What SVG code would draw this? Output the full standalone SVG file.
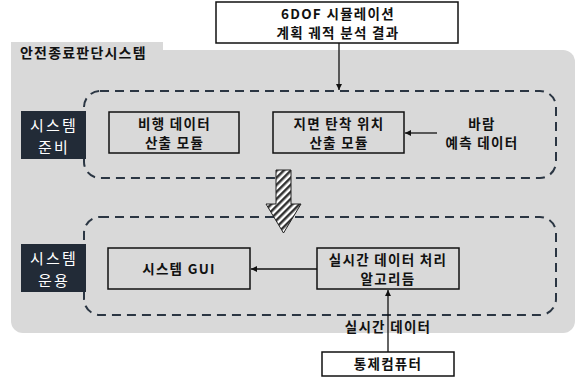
<svg xmlns="http://www.w3.org/2000/svg" width="581" height="378" viewBox="0 0 581 378">
<style>
.t{font-family:"Noto Sans CJK KR","Malgun Gothic",sans-serif;font-weight:bold;font-size:13.5px;letter-spacing:1.3px;fill:#111;text-anchor:middle}
.lbl{font-family:"Noto Sans CJK KR",sans-serif;font-size:15px;letter-spacing:2.2px;fill:#fff;text-anchor:middle}
.box{fill:none;stroke:#111;stroke-width:1.5}
.wbox{fill:#fff;stroke:#111;stroke-width:1.5}
.dash{fill:none;stroke:#2b3643;stroke-width:2;stroke-dasharray:9,6}
.lab{fill:#222b37}
.conn{stroke:#111;stroke-width:1.3;fill:none;marker-end:url(#ah)}
</style>
<defs>
<marker id="ah" markerWidth="8" markerHeight="8" refX="6" refY="3" orient="auto" markerUnits="userSpaceOnUse">
<path d="M0,0 L6,3 L0,6 Z" fill="#111"/>
</marker>
<pattern id="hatch" width="5" height="5" patternUnits="userSpaceOnUse" patternTransform="rotate(45)">
<rect width="5" height="5" fill="#fff"/>
<rect width="2.5" height="5" fill="#333"/>
</pattern>
</defs>
<rect width="581" height="378" fill="#fff"/>
<g id="system">
<rect x="11" y="50" width="564" height="283" rx="12" fill="#d9d9d9"/>
<rect x="11" y="42" width="152" height="20" fill="#d9d9d9"/>
<text x="20" y="57.5" font-family="Noto Sans CJK KR, sans-serif" font-weight="bold" font-size="14px" letter-spacing="1.2px" fill="#111">안전종료판단시스템</text>
</g>
<g id="prep-group">
<rect class="dash" x="84" y="91" width="472" height="87" rx="16"/>
</g>
<g id="ops-group">
<rect class="dash" x="84" y="217" width="472" height="98" rx="16"/>
</g>
<g id="sim-result">
<rect class="wbox" x="216" y="2" width="242" height="41"/>
<text class="t" x="338" y="18.5">6DOF 시뮬레이션</text>
<text class="t" x="338" y="37.5">계획 궤적 분석 결과</text>
</g>
<g id="label-prep">
<rect class="lab" x="21" y="111" width="65" height="48"/>
<text class="lbl" x="54" y="131">시스템</text>
<text class="lbl" x="54" y="153">준비</text>
</g>
<g id="flight-data">
<rect class="box" x="109" y="112" width="130" height="41"/>
<text class="t" x="174.5" y="128.5">비행 데이터</text>
<text class="t" x="174.5" y="148">산출 모듈</text>
</g>
<g id="impact">
<rect class="box" x="273" y="112" width="131" height="41"/>
<text class="t" x="339" y="128.5">지면 탄착 위치</text>
<text class="t" x="339" y="148">산출 모듈</text>
</g>
<g id="wind">
<text class="t" x="482" y="128.5">바람</text>
<text class="t" x="482" y="148">예측 데이터</text>
</g>
<g id="big-arrow">
<path d="M276,170 H291 V204 H301 L283.5,233 L266,204 H276 Z" fill="url(#hatch)" stroke="#222" stroke-width="1"/>
</g>
<g id="label-ops">
<rect class="lab" x="21" y="244" width="65" height="48"/>
<text class="lbl" x="54" y="264">시스템</text>
<text class="lbl" x="54" y="286">운용</text>
</g>
<g id="gui">
<rect class="box" x="108" y="248" width="142" height="41"/>
<text class="t" x="179" y="273.5">시스템 GUI</text>
</g>
<g id="realtime">
<rect class="box" x="317" y="248" width="142" height="41"/>
<text class="t" x="388" y="264.5">실시간 데이터 처리</text>
<text class="t" x="388" y="284">알고리듬</text>
</g>
<g id="control-pc">
<rect class="wbox" x="322" y="352" width="132" height="24"/>
<text class="t" x="388" y="369">통제컴퓨터</text>
</g>
<g id="rt-label">
<text class="t" x="388" y="332">실시간 데이터</text>
</g>
<g id="connectors">
<line class="conn" x1="339" y1="43" x2="339" y2="90"/>
<line class="conn" x1="437" y1="133" x2="405" y2="133"/>
<line class="conn" x1="317" y1="269" x2="251" y2="269"/>
<line class="conn" x1="388" y1="352" x2="388" y2="290"/>
</g>
</svg>
